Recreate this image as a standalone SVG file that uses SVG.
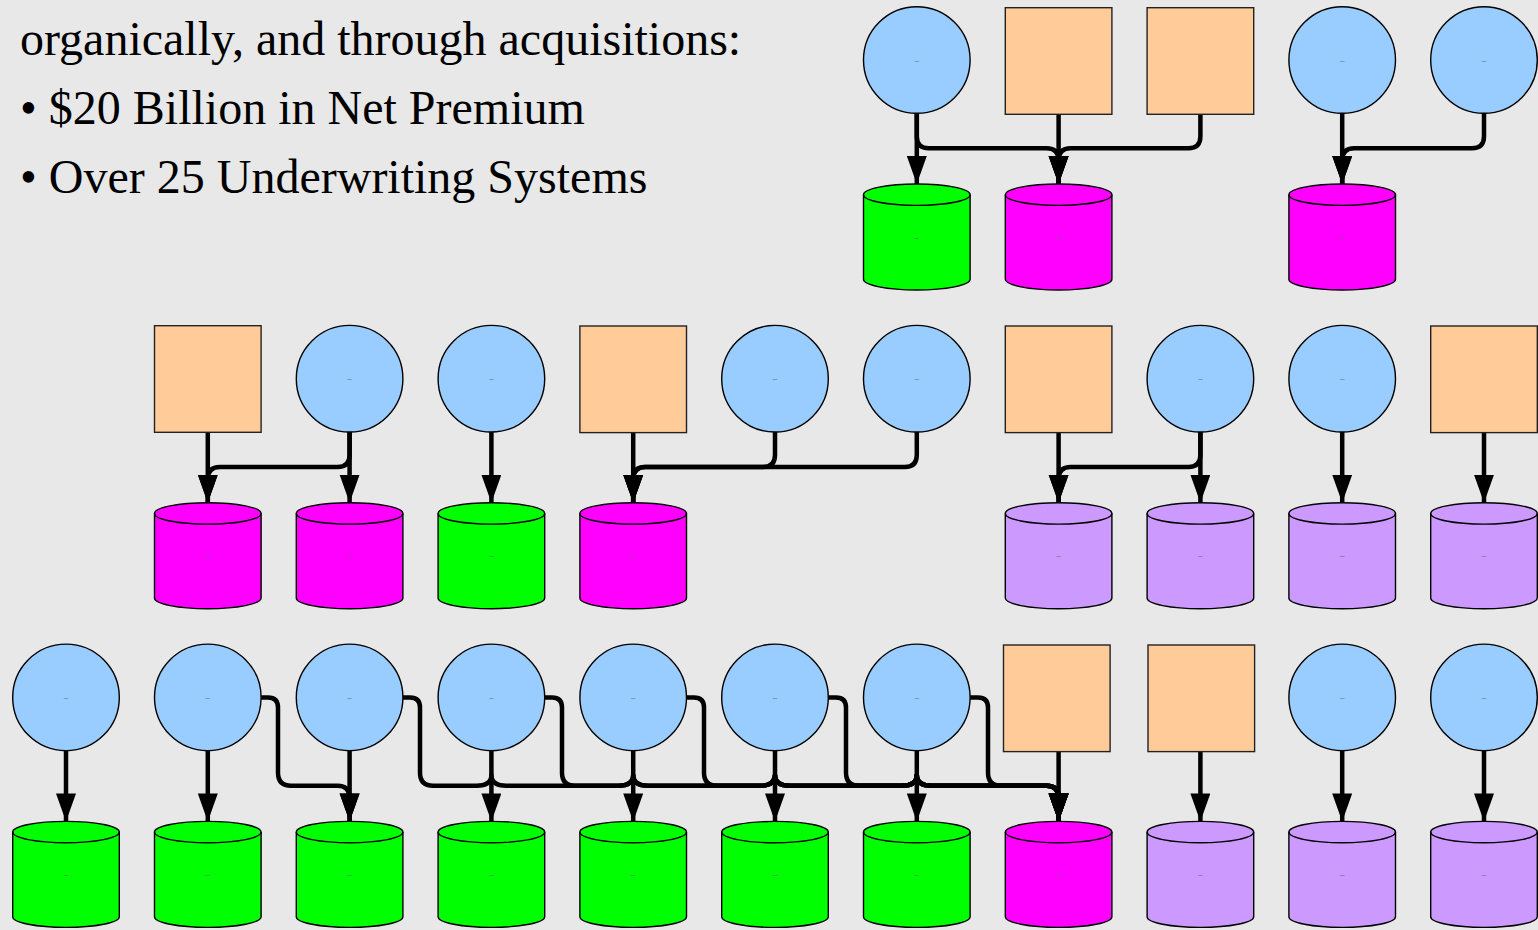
<svg xmlns="http://www.w3.org/2000/svg" width="1538" height="930" viewBox="0 0 1538 930">
  <style>
    .bg { fill: #E8E8E8; }
    .heading { font-family: "Liberation Serif", "Times New Roman", serif; font-size: 48px; fill: #000; }
    .app { fill: #99CCFF; stroke: #000; stroke-width: 1.4; }
    .src { fill: #FFCC99; stroke: #222; stroke-width: 1.4; }
    .db { stroke: #000; stroke-width: 1.4; }
    .db-green { fill: #00FF00; }
    .db-magenta { fill: #FF00FF; }
    .db-purple { fill: #CC99FF; }
    .rim { fill: none; stroke: #000; stroke-width: 1.4; }
    .lbl { font-family: "Liberation Sans", Arial, sans-serif; font-size: 8px; fill: #667; text-anchor: middle; }
    .edge { fill: none; stroke: #000; stroke-width: 4.5; stroke-linejoin: round; marker-end: url(#arrow); }
  </style>
  <defs>
    <marker id="arrow" markerWidth="29" markerHeight="21" refX="28" refY="10" orient="auto" markerUnits="userSpaceOnUse">
      <path d="M0,0 L28,10 L0,20 Z" fill="#000"/>
    </marker>
    <!-- cylinder outline, 106.6 wide, 106 tall, origin at top-left -->
    <path id="cyl" d="M0,10.7 A53.3,10.7 0 0 1 106.6,10.7 V95.3 A53.3,10.7 0 0 1 0,95.3 Z"/>
    <path id="cylrim" d="M0,10.7 A53.3,10.7 0 0 0 106.6,10.7"/>
  </defs>

  <rect class="bg" x="0" y="0" width="1538" height="930"/>

  <!-- intro text -->
  <g id="intro">
    <text class="heading" x="20" y="55">organically, and through acquisitions:</text>
    <text class="heading" x="20" y="124">• $20 Billion in Net Premium</text>
    <text class="heading" x="20" y="193">• Over 25 Underwriting Systems</text>
  </g>

  <!-- connectors -->
  <g id="connectors">
    <!-- row 1 -->
    <path class="edge" d="M916.8,113.3 V184"/>
    <path class="edge" d="M916.8,113.3 V136.3 Q916.8,148.3 928.8,148.3 H1046.6 Q1058.6,148.3 1058.6,160.3 V184"/>
    <path class="edge" d="M1058.6,114 V184"/>
    <path class="edge" d="M1200.4,114 V136.3 Q1200.4,148.3 1188.4,148.3 H1070.6 Q1058.6,148.3 1058.6,160.3 V184"/>
    <path class="edge" d="M1342.2,113.3 V184"/>
    <path class="edge" d="M1484,113.3 V136.3 Q1484,148.3 1472,148.3 H1354.2 Q1342.2,148.3 1342.2,160.3 V184"/>

    <!-- row 2 -->
    <path class="edge" d="M207.8,432 V502.7"/>
    <path class="edge" d="M349.6,432 V455 Q349.6,467 337.6,467 H219.8 Q207.8,467 207.8,479 V502.7"/>
    <path class="edge" d="M349.6,432 V502.7"/>
    <path class="edge" d="M491.4,432 V502.7"/>
    <path class="edge" d="M633.2,432 V502.7"/>
    <path class="edge" d="M775,432 V455 Q775,467 763,467 H645.2 Q633.2,467 633.2,479 V502.7"/>
    <path class="edge" d="M916.8,432 V455 Q916.8,467 904.8,467 H645.2 Q633.2,467 633.2,479 V502.7"/>
    <path class="edge" d="M1058.6,432 V502.7"/>
    <path class="edge" d="M1200.4,432 V455 Q1200.4,467 1188.4,467 H1070.6 Q1058.6,467 1058.6,479 V502.7"/>
    <path class="edge" d="M1200.4,432 V502.7"/>
    <path class="edge" d="M1342.2,432 V502.7"/>
    <path class="edge" d="M1484,432 V502.7"/>

    <!-- row 3: straight links -->
    <path class="edge" d="M66,750.7 V821.4"/>
    <path class="edge" d="M207.8,750.7 V821.4"/>
    <path class="edge" d="M349.6,750.7 V821.4"/>
    <path class="edge" d="M491.4,750.7 V821.4"/>
    <path class="edge" d="M633.2,750.7 V821.4"/>
    <path class="edge" d="M775,750.7 V821.4"/>
    <path class="edge" d="M916.8,750.7 V821.4"/>
    <path class="edge" d="M1058.6,751 V821.4"/>
    <path class="edge" d="M1200.4,751 V821.4"/>
    <path class="edge" d="M1342.2,750.7 V821.4"/>
    <path class="edge" d="M1484,750.7 V821.4"/>

    <!-- row 3: side exits along the shared channel -->
    <path class="edge" d="M261.1,697.4 H268 Q278,697.4 278,707.4 V772.7 Q278,785.7 291,785.7 H337.6 Q349.6,785.7 349.6,797.7 V821.4"/>
    <path class="edge" d="M402.9,697.4 H410 Q420,697.4 420,707.4 V772.7 Q420,785.7 433,785.7 H476.4 Q491.4,785.7 491.4,775 Q491.4,785.7 506.4,785.7 H618.2 Q633.2,785.7 633.2,775 Q633.2,785.7 648.2,785.7 H760 Q775,785.7 775,775 Q775,785.7 790,785.7 H901.8 Q916.8,785.7 916.8,775 Q916.8,785.7 931.8,785.7 H1046.6 Q1058.6,785.7 1058.6,797.7 V821.4"/>
    <path class="edge" d="M544.7,697.4 H552 Q562,697.4 562,707.4 V772.7 Q562,785.7 575,785.7 H618.2 Q633.2,785.7 633.2,775 Q633.2,785.7 648.2,785.7 H760 Q775,785.7 775,775 Q775,785.7 790,785.7 H901.8 Q916.8,785.7 916.8,775 Q916.8,785.7 931.8,785.7 H1046.6 Q1058.6,785.7 1058.6,797.7 V821.4"/>
    <path class="edge" d="M686.5,697.4 H694 Q704,697.4 704,707.4 V772.7 Q704,785.7 717,785.7 H760 Q775,785.7 775,775 Q775,785.7 790,785.7 H901.8 Q916.8,785.7 916.8,775 Q916.8,785.7 931.8,785.7 H1046.6 Q1058.6,785.7 1058.6,797.7 V821.4"/>
    <path class="edge" d="M828.3,697.4 H836 Q846,697.4 846,707.4 V772.7 Q846,785.7 859,785.7 H901.8 Q916.8,785.7 916.8,775 Q916.8,785.7 931.8,785.7 H1046.6 Q1058.6,785.7 1058.6,797.7 V821.4"/>
    <path class="edge" d="M970.1,697.4 H978 Q988,697.4 988,707.4 V772.7 Q988,785.7 1001,785.7 H1046.6 Q1058.6,785.7 1058.6,797.7 V821.4"/>
  </g>

  <!-- row 1 nodes -->
  <g id="r1-app-6"><circle class="app" cx="916.8" cy="60" r="53.3"/><text class="lbl" x="916.8" y="62.5">–</text></g>
  <g id="r1-src-7"><rect class="src" x="1005.3" y="7.7" width="106.6" height="106.6"/></g>
  <g id="r1-src-8"><rect class="src" x="1147.1" y="7.7" width="106.6" height="106.6"/></g>
  <g id="r1-app-9"><circle class="app" cx="1342.2" cy="60" r="53.3"/><text class="lbl" x="1342.2" y="62.5">–</text></g>
  <g id="r1-app-10"><circle class="app" cx="1484" cy="60" r="53.3"/><text class="lbl" x="1484" y="62.5">–</text></g>
  <g id="r1-db-6"><use href="#cyl" class="db db-green" x="863.5" y="184"/><use href="#cylrim" class="rim" x="863.5" y="184"/><text class="lbl" x="916.8" y="239.5">–</text></g>
  <g id="r1-db-7"><use href="#cyl" class="db db-magenta" x="1005.3" y="184"/><use href="#cylrim" class="rim" x="1005.3" y="184"/><text class="lbl" x="1058.6" y="239.5">–</text></g>
  <g id="r1-db-9"><use href="#cyl" class="db db-magenta" x="1288.9" y="184"/><use href="#cylrim" class="rim" x="1288.9" y="184"/><text class="lbl" x="1342.2" y="239.5">–</text></g>

  <!-- row 2 nodes -->
  <g id="r2-src-1"><rect class="src" x="154.5" y="325.7" width="106.6" height="106.6"/></g>
  <g id="r2-app-2"><circle class="app" cx="349.6" cy="378.7" r="53.3"/><text class="lbl" x="349.6" y="381.2">–</text></g>
  <g id="r2-app-3"><circle class="app" cx="491.4" cy="378.7" r="53.3"/><text class="lbl" x="491.4" y="381.2">–</text></g>
  <g id="r2-src-4"><rect class="src" x="579.9" y="326" width="106.6" height="106.6"/></g>
  <g id="r2-app-5"><circle class="app" cx="775" cy="378.7" r="53.3"/><text class="lbl" x="775" y="381.2">–</text></g>
  <g id="r2-app-6"><circle class="app" cx="916.8" cy="378.7" r="53.3"/><text class="lbl" x="916.8" y="381.2">–</text></g>
  <g id="r2-src-7"><rect class="src" x="1005.3" y="326" width="106.6" height="106.6"/></g>
  <g id="r2-app-8"><circle class="app" cx="1200.4" cy="378.7" r="53.3"/><text class="lbl" x="1200.4" y="381.2">–</text></g>
  <g id="r2-app-9"><circle class="app" cx="1342.2" cy="378.7" r="53.3"/><text class="lbl" x="1342.2" y="381.2">–</text></g>
  <g id="r2-src-10"><rect class="src" x="1430.7" y="326" width="106.6" height="106.6"/></g>
  <g id="r2-db-1"><use href="#cyl" class="db db-magenta" x="154.5" y="502.7"/><use href="#cylrim" class="rim" x="154.5" y="502.7"/><text class="lbl" x="207.8" y="558.2">–</text></g>
  <g id="r2-db-2"><use href="#cyl" class="db db-magenta" x="296.3" y="502.7"/><use href="#cylrim" class="rim" x="296.3" y="502.7"/><text class="lbl" x="349.6" y="558.2">–</text></g>
  <g id="r2-db-3"><use href="#cyl" class="db db-green" x="438.1" y="502.7"/><use href="#cylrim" class="rim" x="438.1" y="502.7"/><text class="lbl" x="491.4" y="558.2">–</text></g>
  <g id="r2-db-4"><use href="#cyl" class="db db-magenta" x="579.9" y="502.7"/><use href="#cylrim" class="rim" x="579.9" y="502.7"/><text class="lbl" x="633.2" y="558.2">–</text></g>
  <g id="r2-db-7"><use href="#cyl" class="db db-purple" x="1005.3" y="502.7"/><use href="#cylrim" class="rim" x="1005.3" y="502.7"/><text class="lbl" x="1058.6" y="558.2">–</text></g>
  <g id="r2-db-8"><use href="#cyl" class="db db-purple" x="1147.1" y="502.7"/><use href="#cylrim" class="rim" x="1147.1" y="502.7"/><text class="lbl" x="1200.4" y="558.2">–</text></g>
  <g id="r2-db-9"><use href="#cyl" class="db db-purple" x="1288.9" y="502.7"/><use href="#cylrim" class="rim" x="1288.9" y="502.7"/><text class="lbl" x="1342.2" y="558.2">–</text></g>
  <g id="r2-db-10"><use href="#cyl" class="db db-purple" x="1430.7" y="502.7"/><use href="#cylrim" class="rim" x="1430.7" y="502.7"/><text class="lbl" x="1484" y="558.2">–</text></g>

  <!-- row 3 nodes -->
  <g id="r3-app-0"><circle class="app" cx="66" cy="697.4" r="53.3"/><text class="lbl" x="66" y="699.9">–</text></g>
  <g id="r3-app-1"><circle class="app" cx="207.8" cy="697.4" r="53.3"/><text class="lbl" x="207.8" y="699.9">–</text></g>
  <g id="r3-app-2"><circle class="app" cx="349.6" cy="697.4" r="53.3"/><text class="lbl" x="349.6" y="699.9">–</text></g>
  <g id="r3-app-3"><circle class="app" cx="491.4" cy="697.4" r="53.3"/><text class="lbl" x="491.4" y="699.9">–</text></g>
  <g id="r3-app-4"><circle class="app" cx="633.2" cy="697.4" r="53.3"/><text class="lbl" x="633.2" y="699.9">–</text></g>
  <g id="r3-app-5"><circle class="app" cx="775" cy="697.4" r="53.3"/><text class="lbl" x="775" y="699.9">–</text></g>
  <g id="r3-app-6"><circle class="app" cx="916.8" cy="697.4" r="53.3"/><text class="lbl" x="916.8" y="699.9">–</text></g>
  <g id="r3-src-7"><rect class="src" x="1003.5" y="645" width="106.6" height="106.6"/></g>
  <g id="r3-src-8"><rect class="src" x="1148" y="645" width="106.6" height="106.6"/></g>
  <g id="r3-app-9"><circle class="app" cx="1342.2" cy="697.4" r="53.3"/><text class="lbl" x="1342.2" y="699.9">–</text></g>
  <g id="r3-app-10"><circle class="app" cx="1484" cy="697.4" r="53.3"/><text class="lbl" x="1484" y="699.9">–</text></g>
  <g id="r3-db-0"><use href="#cyl" class="db db-green" x="12.7" y="821.4"/><use href="#cylrim" class="rim" x="12.7" y="821.4"/><text class="lbl" x="66" y="876.9">–</text></g>
  <g id="r3-db-1"><use href="#cyl" class="db db-green" x="154.5" y="821.4"/><use href="#cylrim" class="rim" x="154.5" y="821.4"/><text class="lbl" x="207.8" y="876.9">–</text></g>
  <g id="r3-db-2"><use href="#cyl" class="db db-green" x="296.3" y="821.4"/><use href="#cylrim" class="rim" x="296.3" y="821.4"/><text class="lbl" x="349.6" y="876.9">–</text></g>
  <g id="r3-db-3"><use href="#cyl" class="db db-green" x="438.1" y="821.4"/><use href="#cylrim" class="rim" x="438.1" y="821.4"/><text class="lbl" x="491.4" y="876.9">–</text></g>
  <g id="r3-db-4"><use href="#cyl" class="db db-green" x="579.9" y="821.4"/><use href="#cylrim" class="rim" x="579.9" y="821.4"/><text class="lbl" x="633.2" y="876.9">–</text></g>
  <g id="r3-db-5"><use href="#cyl" class="db db-green" x="721.7" y="821.4"/><use href="#cylrim" class="rim" x="721.7" y="821.4"/><text class="lbl" x="775" y="876.9">–</text></g>
  <g id="r3-db-6"><use href="#cyl" class="db db-green" x="863.5" y="821.4"/><use href="#cylrim" class="rim" x="863.5" y="821.4"/><text class="lbl" x="916.8" y="876.9">–</text></g>
  <g id="r3-db-7"><use href="#cyl" class="db db-magenta" x="1005.3" y="821.4"/><use href="#cylrim" class="rim" x="1005.3" y="821.4"/><text class="lbl" x="1058.6" y="876.9">–</text></g>
  <g id="r3-db-8"><use href="#cyl" class="db db-purple" x="1147.1" y="821.4"/><use href="#cylrim" class="rim" x="1147.1" y="821.4"/><text class="lbl" x="1200.4" y="876.9">–</text></g>
  <g id="r3-db-9"><use href="#cyl" class="db db-purple" x="1288.9" y="821.4"/><use href="#cylrim" class="rim" x="1288.9" y="821.4"/><text class="lbl" x="1342.2" y="876.9">–</text></g>
  <g id="r3-db-10"><use href="#cyl" class="db db-purple" x="1430.7" y="821.4"/><use href="#cylrim" class="rim" x="1430.7" y="821.4"/><text class="lbl" x="1484" y="876.9">–</text></g>
</svg>
